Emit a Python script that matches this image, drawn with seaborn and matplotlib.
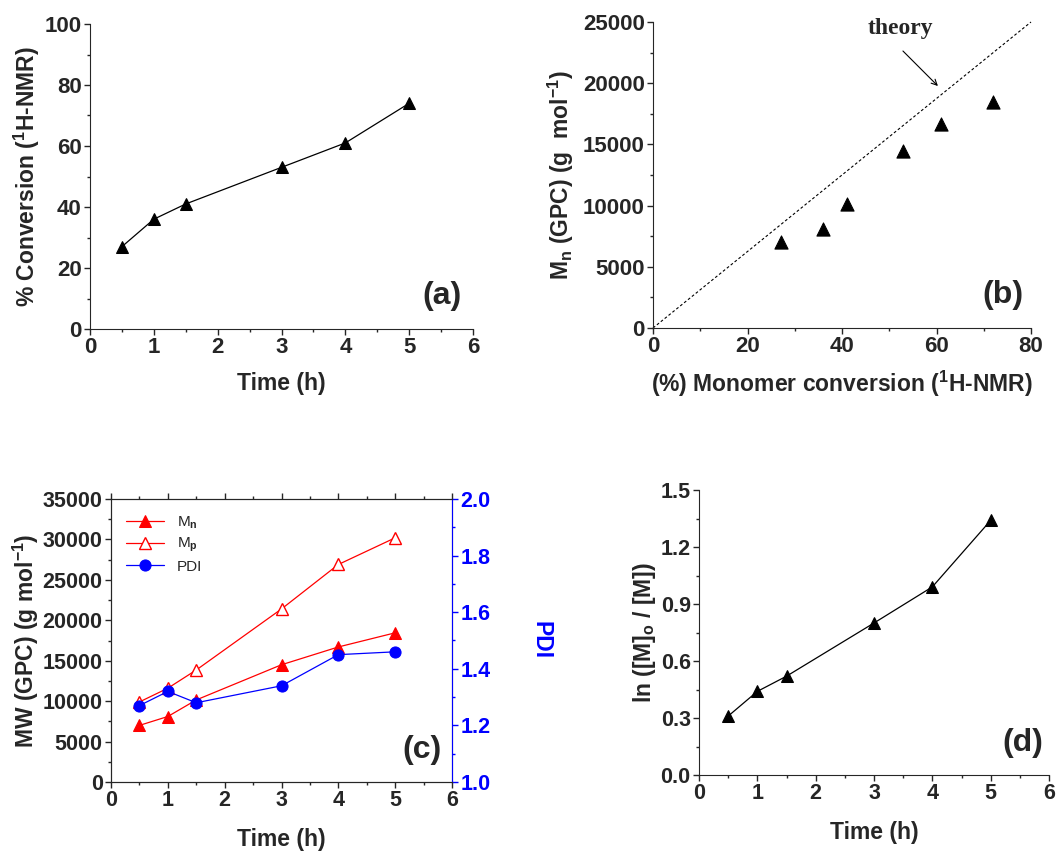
import numpy as np
import pandas as pd
import matplotlib
matplotlib.use('Agg')
import matplotlib.pyplot as plt
from matplotlib.ticker import MultipleLocator, FormatStrFormatter
import seaborn as sns

# data
time_h = [0.5, 1, 1.5, 3, 4, 5]
conversion = [27, 36, 41, 53, 61, 74]
conv_b = [27, 36, 41, 53, 61, 72]
mn_gpc = [7000, 8100, 10150, 14500, 16700, 18450]
mp_gpc = [9900, 11600, 13850, 21400, 26900, 30200]
pdi = [1.27, 1.32, 1.28, 1.34, 1.45, 1.46]
ln_m0_m = [0.31, 0.44, 0.52, 0.80, 0.99, 1.34]
theory_conv = [0, 80]
theory_mn = [0, 25000]

sns.set_style('ticks')
plt.rcParams['font.family'] = ['Liberation Sans', 'DejaVu Sans']
plt.rcParams['font.weight'] = 'bold'
plt.rcParams['axes.labelweight'] = 'bold'
plt.rcParams['mathtext.fontset'] = 'custom'
plt.rcParams['mathtext.rm'] = 'Liberation Sans'
plt.rcParams['mathtext.bf'] = 'Liberation Sans:bold'
plt.rcParams['mathtext.it'] = 'Liberation Sans:italic'
plt.rcParams['mathtext.default'] = 'bf'
plt.rcParams['xtick.direction'] = 'out'
plt.rcParams['ytick.direction'] = 'out'

df = pd.DataFrame({'time': time_h, 'conv': conversion, 'mn': mn_gpc,
                   'mp': mp_gpc, 'pdi': pdi, 'ln': ln_m0_m})

fig = plt.figure(figsize=(10.56, 8.52), dpi=100)
W, H = 1056, 852

def make_ax(x0, y0, x1, y1):
    return fig.add_axes([x0 / W, (H - y1) / H, (x1 - x0) / W, (y1 - y0) / H])

def style(ax, fs):
    ax.tick_params(axis='both', which='major', labelsize=fs, length=4, width=1, pad=2)
    ax.tick_params(axis='both', which='minor', length=2.5, width=1)

tri = dict(marker='^', markersize=9, color='black', markeredgecolor='black',
           linewidth=0.9, estimator=None)
LAB = 16.5

# (a)
ax1 = make_ax(90, 24, 473, 329)
sns.lineplot(data=df, x='time', y='conv', ax=ax1, **tri)
ax1.set_xlim(0, 6)
ax1.set_ylim(0, 100)
ax1.xaxis.set_major_locator(MultipleLocator(1))
ax1.xaxis.set_minor_locator(MultipleLocator(0.5))
ax1.yaxis.set_major_locator(MultipleLocator(20))
ax1.yaxis.set_minor_locator(MultipleLocator(10))
ax1.set_xlabel('Time (h)', fontsize=LAB, labelpad=10)
ax1.set_ylabel('% Conversion ($^1$H-NMR)', fontsize=LAB, labelpad=2)
ax1.text(0.97, 0.06, '(a)', transform=ax1.transAxes, ha='right', va='bottom',
         fontsize=23, fontweight='bold')
sns.despine(ax=ax1)
style(ax1, 16)

# (b)
ax2 = make_ax(653, 22, 1031, 328)
sns.lineplot(x=theory_conv, y=theory_mn, ax=ax2, color='black', linewidth=0.8,
             linestyle=(0, (2.5, 2)), clip_on=False)
sns.scatterplot(x=conv_b, y=mn_gpc, ax=ax2, marker='^', s=90, color='black',
                edgecolor='black')
ax2.set_xlim(0, 80)
ax2.set_ylim(0, 25000)
ax2.xaxis.set_major_locator(MultipleLocator(20))
ax2.xaxis.set_minor_locator(MultipleLocator(10))
ax2.yaxis.set_major_locator(MultipleLocator(5000))
ax2.yaxis.set_minor_locator(MultipleLocator(2500))
ax2.set_xlabel('(%) Monomer conversion ($^1$H-NMR)', fontsize=LAB, labelpad=8)
ax2.set_ylabel('M$_n$ (GPC) (g  mol$^{-1}$)', fontsize=LAB, labelpad=5)
ax2.text(52.3, 24430, 'theory', ha='center', va='center', fontsize=17,
         fontweight='bold', family='Liberation Serif')
ax2.annotate('', xy=(60.3, 19770), xytext=(52.9, 22630),
             arrowprops=dict(arrowstyle='->', color='black', lw=0.8,
                             shrinkA=0, shrinkB=0))
ax2.text(0.98, 0.06, '(b)', transform=ax2.transAxes, ha='right', va='bottom',
         fontsize=23, fontweight='bold')
sns.despine(ax=ax2)
style(ax2, 16)

# (c)
ax3 = make_ax(111, 499, 452, 782)
sns.lineplot(data=df, x='time', y='mn', ax=ax3, marker='^', markersize=9,
             color='red', markeredgecolor='red', linewidth=0.9, estimator=None,
             label='M$_n$', legend=False)
sns.lineplot(data=df, x='time', y='mp', ax=ax3, marker='^', markersize=9,
             color='red', markerfacecolor='white', markeredgecolor='red',
             markeredgewidth=1, linewidth=0.9, estimator=None,
             label='M$_p$', legend=False)
ax3r = ax3.twinx()
sns.lineplot(data=df, x='time', y='pdi', ax=ax3r, marker='o', markersize=8,
             color='blue', markeredgecolor='blue', linewidth=0.9, estimator=None,
             label='PDI', legend=False)
ax3.set_xlim(0, 6)
ax3.set_ylim(0, 35000)
ax3r.set_ylim(1.0, 2.0)
ax3.xaxis.set_major_locator(MultipleLocator(1))
ax3.xaxis.set_minor_locator(MultipleLocator(0.5))
ax3.yaxis.set_major_locator(MultipleLocator(5000))
ax3.yaxis.set_minor_locator(MultipleLocator(2500))
ax3r.yaxis.set_major_locator(MultipleLocator(0.2))
ax3r.yaxis.set_minor_locator(MultipleLocator(0.1))
ax3r.yaxis.set_major_formatter(FormatStrFormatter('%.1f'))
style(ax3, 15.5)
style(ax3r, 15.5)
ax3.tick_params(axis='x', which='both', top=True)
ax3.set_xlabel('Time (h)', fontsize=LAB, labelpad=12)
ax3.set_ylabel('MW (GPC) (g mol$^{-1}$)', fontsize=LAB, labelpad=1)
ax3r.set_ylabel('PDI', fontsize=LAB, color='blue', rotation=270,
                va='bottom', labelpad=28)
ax3r.spines['right'].set_color('blue')
ax3r.tick_params(axis='y', which='both', colors='blue')
ax3.text(0.97, 0.06, '(c)', transform=ax3.transAxes, ha='right', va='bottom',
         fontsize=23, fontweight='bold')
h1, l1 = ax3.get_legend_handles_labels()
h2, l2 = ax3r.get_legend_handles_labels()
ax3.legend(h1 + h2, l1 + l2, loc='upper left', frameon=False,
           prop={'weight': 'normal', 'size': 11}, handlelength=2.5,
           borderaxespad=0.6, labelspacing=0.35)

# (d)
ax4 = make_ax(699, 490, 1049, 775)
sns.lineplot(data=df, x='time', y='ln', ax=ax4, **tri)
ax4.set_xlim(0, 6)
ax4.set_ylim(0, 1.5)
ax4.xaxis.set_major_locator(MultipleLocator(1))
ax4.xaxis.set_minor_locator(MultipleLocator(0.5))
ax4.yaxis.set_major_locator(MultipleLocator(0.3))
ax4.yaxis.set_minor_locator(MultipleLocator(0.15))
ax4.yaxis.set_major_formatter(FormatStrFormatter('%.1f'))
ax4.set_xlabel('Time (h)', fontsize=LAB, labelpad=12)
ax4.set_ylabel('ln ([M]$_o$ / [M])', fontsize=LAB, labelpad=2)
ax4.text(0.985, 0.06, '(d)', transform=ax4.transAxes, ha='right', va='bottom',
         fontsize=23, fontweight='bold')
sns.despine(ax=ax4)
style(ax4, 15.5)

fig.savefig('out.png', dpi=100)
